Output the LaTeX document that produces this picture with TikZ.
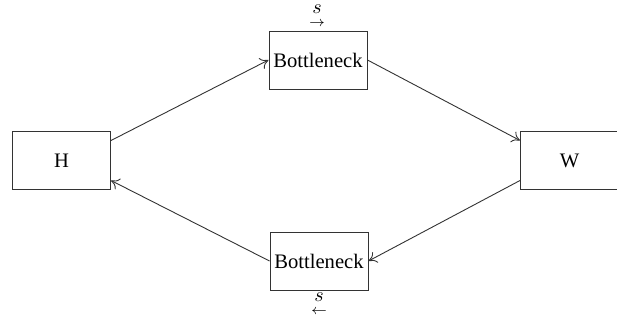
\documentclass[tikz,border=0pt]{standalone}
\usepackage{fontspec}
\setmainfont{Liberation Serif}
\usetikzlibrary{arrows.meta}
\begin{document}
\begin{tikzpicture}[x=0.5pt,y=-0.5pt,
  blockbox/.style={draw=black!80,line width=0.5pt,minimum width=49pt,minimum height=29pt,inner sep=0pt,font=\fontsize{10.3pt}{12pt}\selectfont},
  conn/.style={draw=black!80,line width=0.45pt,-{To[length=4pt,width=6pt]}},
  lbl/.style={inner sep=0pt,font=\fontsize{10.3pt}{12pt}\selectfont}]
\useasboundingbox[clip] (0,0) rectangle (617,321);
\node[blockbox] (H) at (61.5,160.5) {H};
\node[blockbox] (W) at (569.5,160.5) {W};
\node[blockbox] (B1) at (318,60) {Bottleneck};
\node[blockbox] (B2) at (319,261) {Bottleneck};
\node[lbl] (L1) at (317,17) {$\mathop{s}\limits_{\scriptstyle\rightarrow}$};
\node[lbl] (L2) at (319,305) {$\mathop{s}\limits_{\scriptstyle\leftarrow}$};
\draw[conn] ([yshift=10pt]H.east) -- (B1.west);
\draw[conn] (B1.east) -- ([yshift=10pt]W.west);
\draw[conn] ([yshift=-10pt]W.west) -- (B2.east);
\draw[conn] (B2.west) -- ([yshift=-10pt]H.east);
\end{tikzpicture}
\end{document}
